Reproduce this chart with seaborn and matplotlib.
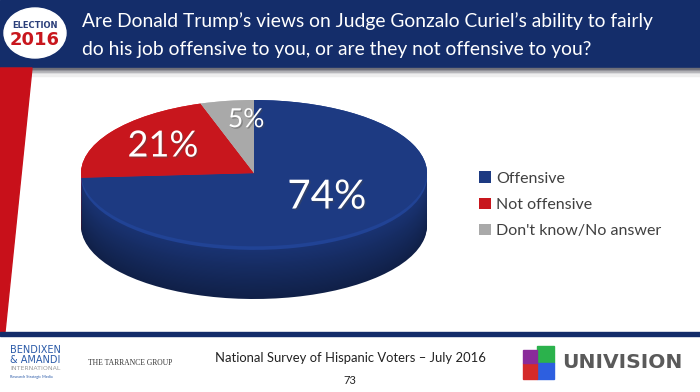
import numpy as np
import matplotlib
matplotlib.use("Agg")
import matplotlib.pyplot as plt
import matplotlib.patches as mpatches
import matplotlib.patheffects as pe
import seaborn as sns

# data
categories = ["Offensive", "Not offensive", "Don't know/No answer"]
shares = [74, 21, 5]
pct_labels = ["74%", "21%", "5%"]
title_lines = ["Are Donald Trump\u2019s views on Judge Gonzalo Curiel\u2019s ability to fairly",
               "do his job offensive to you, or are they not offensive to you?"]
footer = "National Survey of Hispanic Voters \u2013 July 2016"
page = "73"

sns.set_theme(style="white")
plt.rcParams['font.family'] = ['Lato', 'DejaVu Sans']

face_colors = sns.color_palette(["#1d3a82", "#c8161d", "#a9a9a9"])
navy = "#142d6a"

fig = plt.figure(figsize=(7, 3.92), dpi=100)
fig.patch.set_facecolor("white")

# background layer in pixel coordinates
bg = fig.add_axes([0, 0, 1, 1])
bg.set_xlim(0, 700)
bg.set_ylim(392, 0)
bg.axis("off")
bg.add_patch(mpatches.Rectangle((0, 0), 700, 68, color=navy, zorder=1))
for i, c in enumerate(["#6e6e78", "#8c8c94", "#b0b0b4", "#d6d6d8", "#eeeeee"]):
    bg.add_patch(mpatches.Rectangle((0, 68 + i * 1.6), 700, 1.7, color=c, zorder=1))
bg.add_patch(mpatches.Polygon([[0, 68], [32, 68], [5, 332], [0, 332]], color="#c8101a", zorder=2))
bg.add_patch(mpatches.Rectangle((0, 332), 700, 3.5, color=navy, zorder=2))

# election logo
bg.add_patch(mpatches.Ellipse((35, 33), 62, 50, color="white", zorder=3))
bg.text(35, 25, "ELECTION", ha="center", va="center", fontsize=6, fontweight="bold",
        color="#2b3f7a", family="DejaVu Sans", zorder=4)
bg.text(35, 40, "2016", ha="center", va="center", fontsize=13, fontweight="bold",
        color="#c8161d", family="DejaVu Sans", zorder=4)

# title
for i, line in enumerate(title_lines):
    bg.text(82, 21 + i * 28, line, ha="left", va="center", fontsize=13.9,
            color="white", zorder=4)

# footer
bg.text(350, 358, footer, ha="center", va="center", fontsize=9.4, color="#222222")
bg.text(350, 380, page, ha="center", va="center", fontsize=8, color="#222222")
bg.text(88, 363, "THE TARRANCE GROUP", ha="left", va="center", fontsize=5.5,
        color="#333333", family="Liberation Serif")
bg.text(10, 350, "BENDIXEN", ha="left", va="center", fontsize=7, color="#2a5aa8", family="DejaVu Sans")
bg.text(10, 360, "& AMANDI", ha="left", va="center", fontsize=7, color="#2a5aa8", family="DejaVu Sans")
bg.text(10, 369, "INTERNATIONAL", ha="left", va="center", fontsize=4.5, color="#9a9a9a", family="DejaVu Sans")
bg.text(10, 377, "Research Strategic Media", ha="left", va="center", fontsize=2.8, color="#2a5aa8")

# univision logo
bg.add_patch(mpatches.Rectangle((537, 346), 17, 17, color="#2bb24c"))
bg.add_patch(mpatches.Rectangle((537, 363), 17, 16, color="#2d5fe0"))
bg.add_patch(mpatches.Rectangle((523, 363), 14, 16, color="#d42a2a"))
bg.add_patch(mpatches.Rectangle((523, 350), 14, 13, color="#8a2b9a"))
bg.text(562, 362, "UNIVISION", ha="left", va="center", fontsize=14.6, fontweight="bold",
        color="#5a5a5a", family="DejaVu Sans")

# pie: top face radius 1, side drawn as stacked layers below
ax = fig.add_axes([81 / 700, 1 - 299 / 392, 346 / 700, 199 / 392])
depth = 0.72
n_layers = 45
for k in range(n_layers):
    t = k / (n_layers - 1)
    shade = 0.55 + 0.35 * t
    if t > 0.93:
        shade = 1.15
    side = [tuple(np.clip(np.array(c) * shade, 0, 1)) for c in face_colors]
    ax.pie(shares, colors=side, startangle=90, counterclock=False, radius=1,
           center=(0, -depth * (1 - t)), wedgeprops=dict(linewidth=0))
wedges, _ = ax.pie(shares, colors=face_colors, startangle=90, counterclock=False, radius=1,
                   center=(0, 0), wedgeprops=dict(linewidth=0))
ax.set_aspect("auto")
ax.set_xlim(-1, 1)
ax.set_ylim(-1 - depth, 1)
ax.axis("off")

label_r = [0.55, 0.66, 0.74]
label_size = [29, 26, 19]
for w, lab, r, fs in zip(wedges, pct_labels, label_r, label_size):
    mid = np.deg2rad((w.theta1 + w.theta2) / 2)
    ax.text(r * np.cos(mid) + (0.07 if fs == 19 else 0.02), r * np.sin(mid) + (0.05 if fs == 29 else 0), lab,
            ha="center", va="center", fontsize=fs, color="white",
            path_effects=[pe.withSimplePatchShadow(offset=(1, -1), alpha=0.4)])

fig.legend(wedges, categories, loc="upper left", bbox_to_anchor=(465 / 700, 1 - 157 / 392),
           frameon=False, fontsize=11.5, handlelength=0.7, handleheight=0.7,
           handletextpad=0.35, labelspacing=0.75, labelcolor="#404040")

fig.savefig("out.png", dpi=100)
